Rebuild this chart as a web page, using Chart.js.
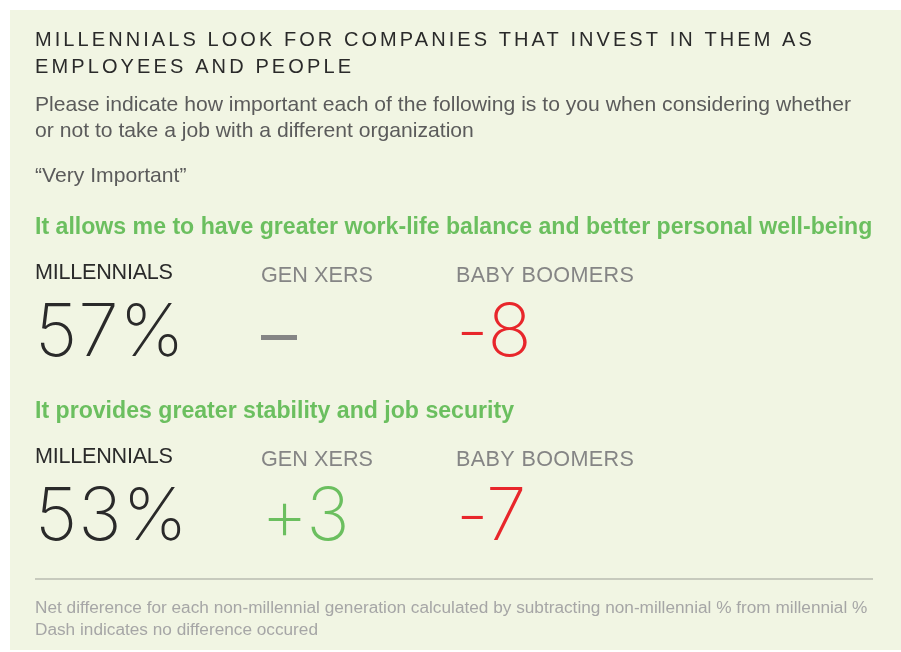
<!DOCTYPE html>
<html>
<head>
<meta charset="utf-8">
<script src="https://cdn.jsdelivr.net/npm/chart.js@4"></script>
<style>
  html, body { margin: 0; padding: 0; background: #ffffff; }
  #wrap { position: relative; width: 901px; height: 652px; }
</style>
</head>
<body>
<div id="wrap"><canvas id="genChart" width="901" height="652"></canvas></div>
<script>
// Survey question: "Very Important" share for millennials, plus net difference for other generations
const titleLines = ['MILLENNIALS LOOK FOR COMPANIES THAT INVEST IN THEM AS', 'EMPLOYEES AND PEOPLE'];
const questionLines = [
  'Please indicate how important each of the following is to you when considering whether',
  'or not to take a job with a different organization'
];
const answerLabel = '\u201cVery Important\u201d';
const statements = [
  'It allows me to have greater work-life balance and better personal well-being',
  'It provides greater stability and job security'
];
const generations = ['MILLENNIALS', 'GEN XERS', 'BABY BOOMERS'];
const millennialPct = [57, 53];
const genXDiff = [0, 3];      // 0 means no difference (drawn as a dash)
const boomerDiff = [-8, -7];
const notes = [
  'Net difference for each non-millennial generation calculated by subtracting non-millennial % from millennial %',
  'Dash indicates no difference occured'
];

const SANS = '"Liberation Sans", Arial, Helvetica, sans-serif';
const LIGHT = '"Inter", "Roboto", "Liberation Sans", sans-serif';
const GREEN = '#6bbf5f';
const RED = '#e8262b';
const DARK = '#2a2a2a';
const GREY = '#858585';

// tracked text: spread letters so the line ends at x + width
function trackText(ctx, text, x, y, width) {
  ctx.letterSpacing = '0px';
  const w = ctx.measureText(text).width;
  const sp = (width - w) / Math.max(text.length - 1, 1);
  ctx.letterSpacing = sp.toFixed(2) + 'px';
  ctx.fillText(text, x, y);
  ctx.letterSpacing = '0px';
}

// pick the font size that makes `ref` about `width` px wide
function sizeFor(ctx, ref, weight, family, width) {
  ctx.font = weight + ' 100px ' + family;
  return 100 * width / ctx.measureText(ref).width;
}

function diffText(v) {
  return v > 0 ? '+' + v : '-' + Math.abs(v);
}
function diffColor(v) {
  if (v === 0) return GREY;
  return v > 0 ? GREEN : RED;
}

const infoPanel = {
  id: 'infoPanel',
  beforeDraw(chart) {
    const ctx = chart.ctx;
    ctx.save();
    ctx.fillStyle = '#f1f5e3';
    ctx.fillRect(10, 10, 891, 640);
    ctx.restore();
  },
  afterDraw(chart) {
    const ctx = chart.ctx;
    ctx.save();
    ctx.textBaseline = 'alphabetic';
    ctx.textAlign = 'left';

    // heading
    ctx.fillStyle = DARK;
    ctx.font = '400 20px ' + SANS;
    trackText(ctx, titleLines[0], 35, 46, 777);
    trackText(ctx, titleLines[1], 35, 73, 316);

    ctx.fillStyle = '#5b5b5b';
    let fs = sizeFor(ctx, questionLines[0], 400, SANS, 817);
    ctx.font = '400 ' + fs + 'px ' + SANS;
    ctx.fillText(questionLines[0], 35, 111);
    ctx.fillText(questionLines[1], 35, 137);
    ctx.fillText(answerLabel, 35, 182);

    // one block per statement
    const colX = [35, 261, 456];
    const labW = [138, 112, 178];
    const blockY = [234, 418];
    const values = chart.data.datasets;
    const headSize = sizeFor(ctx, statements[0], 700, SANS, 838);
    statements.forEach((s, i) => {
      const y0 = blockY[i];
      ctx.fillStyle = GREEN;
      ctx.font = '700 ' + headSize + 'px ' + SANS;
      ctx.fillText(s, 35, y0);

      ctx.font = '400 21.6px ' + SANS;
      generations.forEach((g, k) => {
        ctx.fillStyle = k === 0 ? DARK : GREY;
        trackText(ctx, g, colX[k], y0 + (k === 0 ? 45 : 48), labW[k]);
      });

      ctx.font = '200 73px ' + LIGHT;
      ctx.fillStyle = DARK;
      ctx.letterSpacing = '1px';
      ctx.fillText(values[0].data[i].v + '%', colX[0], y0 + 122);
      ctx.letterSpacing = '-1px';
      [1, 2].forEach(g => {
        const v = values[g].data[i].v;
        ctx.fillStyle = diffColor(v);
        if (v === 0) {
          // no difference: a flat grey dash
          ctx.fillRect(colX[g], y0 + 101, 36, 5);
        } else {
          ctx.fillText(diffText(v), colX[g], y0 + 122);
        }
      });
      ctx.letterSpacing = '0px';
    });

    // rule + footnote
    ctx.strokeStyle = '#b9bbb0';
    ctx.lineWidth = 1.5;
    ctx.beginPath();
    ctx.moveTo(35, 579);
    ctx.lineTo(873, 579);
    ctx.stroke();

    ctx.fillStyle = '#a6a6a6';
    fs = sizeFor(ctx, notes[0], 400, SANS, 833);
    ctx.font = '400 ' + fs + 'px ' + SANS;
    ctx.fillText(notes[0], 35, 613);
    ctx.fillText(notes[1], 35, 635);
    ctx.restore();
  }
};

const pointsFor = arr => arr.map((v, i) => ({ x: 0, y: i, v: v }));

new Chart(document.getElementById('genChart'), {
  type: 'scatter',
  data: {
    datasets: [
      { label: generations[0], data: pointsFor(millennialPct), pointRadius: 0 },
      { label: generations[1], data: pointsFor(genXDiff), pointRadius: 0 },
      { label: generations[2], data: pointsFor(boomerDiff), pointRadius: 0 }
    ]
  },
  options: {
    responsive: false,
    animation: false,
    events: [],
    layout: { padding: 0 },
    plugins: {
      legend: { display: false },
      tooltip: { enabled: false }
    },
    scales: {
      x: { display: false },
      y: { display: false }
    }
  },
  plugins: [infoPanel]
});
</script>
</body>
</html>
